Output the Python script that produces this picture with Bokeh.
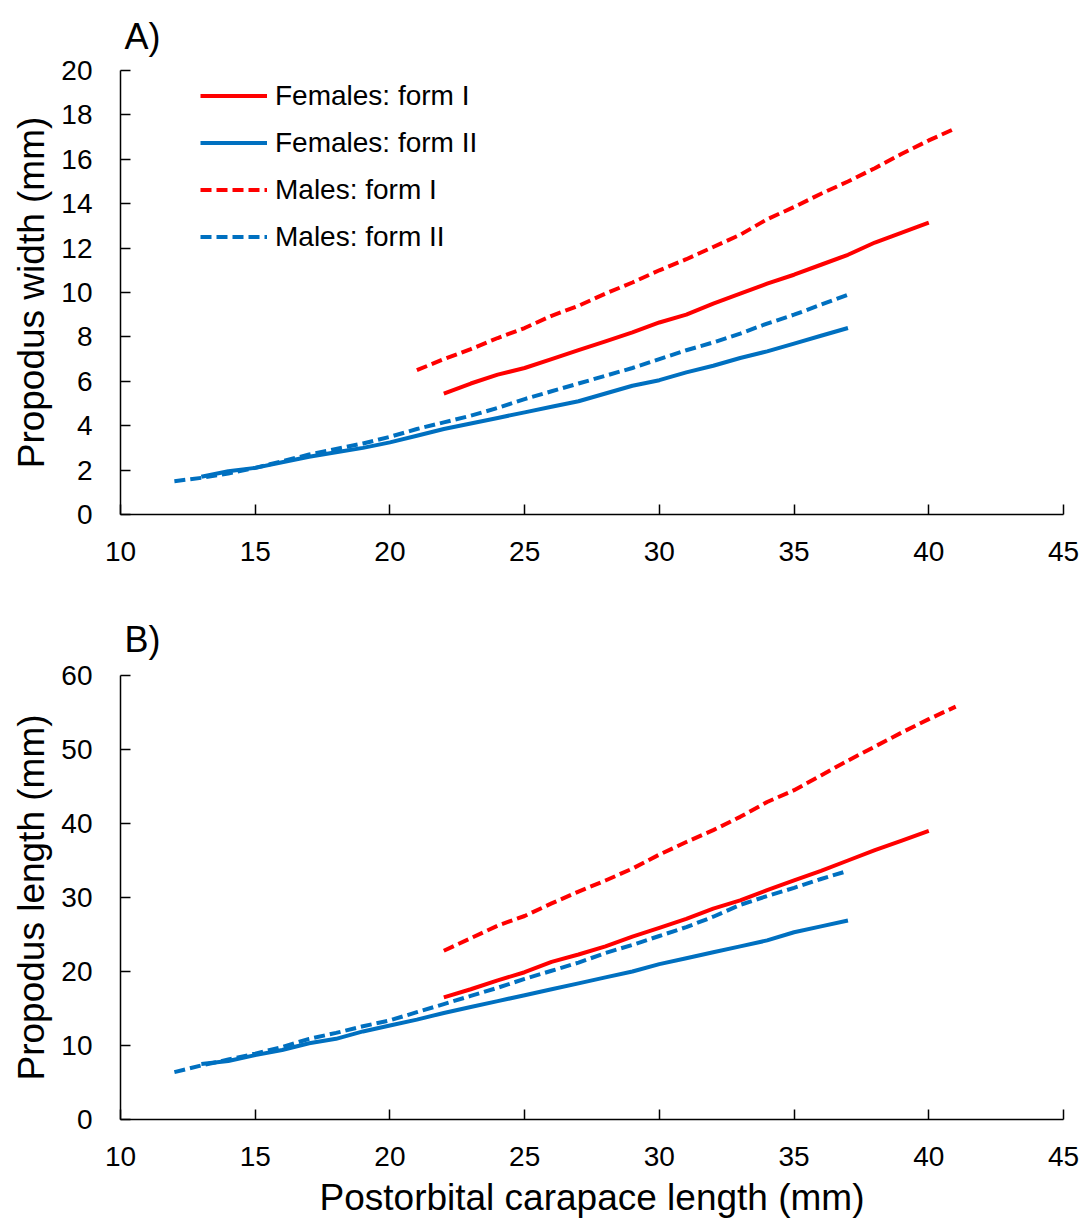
from bokeh.plotting import figure
from bokeh.models import Range1d, FixedTicker, Legend, LegendItem
from bokeh.layouts import column
from bokeh.embed import file_html
from bokeh.resources import INLINE

FONT = "Liberation Sans"
RED = "#FF0000"
BLUE = "#0070C0"

# ---- data ----
x_tick_values = [10, 15, 20, 25, 30, 35, 40, 45]
width_ticks = [0, 2, 4, 6, 8, 10, 12, 14, 16, 18, 20]
length_ticks = [0, 10, 20, 30, 40, 50, 60]

series_names = ["Females: form I", "Females: form II", "Males: form I", "Males: form II"]

# Panel A: propodus width
x_fem_I_w = list(range(22, 41))
w_fem_I = [5.45, 5.9, 6.3, 6.6, 7.0, 7.4, 7.8, 8.2, 8.65, 9.0, 9.5, 9.95, 10.4, 10.8,
           11.25, 11.7, 12.25, 12.7, 13.15]
x_fem_II_w = list(range(13, 38))
w_fem_II = [1.7, 1.95, 2.1, 2.35, 2.6, 2.8, 3.0, 3.25, 3.55, 3.85, 4.1, 4.35, 4.6, 4.85,
            5.1, 5.45, 5.8, 6.05, 6.4, 6.7, 7.05, 7.35, 7.7, 8.05, 8.4]
x_mal_I_w = list(range(21, 42))
w_mal_I = [6.5, 7.0, 7.45, 7.95, 8.4, 8.95, 9.4, 9.95, 10.45, 11.0, 11.5, 12.05, 12.6,
           13.3, 13.85, 14.45, 15.0, 15.6, 16.25, 16.85, 17.4]
x_mal_II_w = list(range(12, 38))
w_mal_II = [1.5, 1.65, 1.85, 2.1, 2.4, 2.7, 2.95, 3.2, 3.5, 3.85, 4.15, 4.45, 4.8, 5.2,
            5.55, 5.9, 6.25, 6.6, 7.0, 7.4, 7.75, 8.15, 8.6, 9.0, 9.45, 9.9]

# Panel B: propodus length
x_fem_I_l = list(range(22, 41))
l_fem_I = [16.5, 17.6, 18.8, 19.9, 21.3, 22.3, 23.4, 24.7, 25.9, 27.1, 28.5, 29.6, 31.0,
           32.3, 33.6, 35.0, 36.4, 37.7, 39.0]
x_fem_II_l = list(range(13, 38))
l_fem_II = [7.5, 7.9, 8.7, 9.4, 10.3, 10.9, 11.9, 12.7, 13.5, 14.4, 15.2, 16.0, 16.8,
            17.6, 18.4, 19.2, 20.0, 21.0, 21.8, 22.6, 23.4, 24.2, 25.3, 26.1, 26.9]
x_mal_I_l = list(range(22, 42))
l_mal_I = [22.8, 24.5, 26.2, 27.5, 29.2, 30.8, 32.3, 33.9, 35.8, 37.5, 39.1, 40.9, 42.9,
           44.5, 46.5, 48.5, 50.4, 52.3, 54.1, 55.8]
x_mal_II_l = list(range(12, 38))
l_mal_II = [6.4, 7.3, 8.1, 8.9, 9.8, 10.9, 11.7, 12.6, 13.4, 14.5, 15.6, 16.7, 17.8, 19.0,
            20.1, 21.2, 22.5, 23.6, 24.8, 26.0, 27.4, 29.0, 30.2, 31.3, 32.5, 33.6]

DASH = "11 5"


def make_fig(height, ymax, yticks, ylabel, panel_tag, standoff, min_top, min_bottom,
             xlabel=None):
    p = figure(width=1080, height=height, x_range=Range1d(10, 45), y_range=Range1d(0, ymax),
               output_backend="svg", toolbar_location=None, title=panel_tag,
               min_border_left=120, min_border_right=17,
               min_border_top=min_top, min_border_bottom=min_bottom)
    p.grid.visible = False
    p.outline_line_color = None
    p.background_fill_color = "white"
    p.border_fill_color = "white"
    p.title.text_font = FONT
    p.title.text_font_size = "36px"
    p.title.text_font_style = "normal"
    p.title.text_color = "black"
    p.title.vertical_align = "bottom"
    p.title.offset = 4
    p.title.standoff = standoff

    for ax in (p.xaxis[0], p.yaxis[0]):
        ax.axis_line_color = "black"
        ax.axis_line_width = 1.5
        ax.major_tick_line_color = "black"
        ax.major_tick_line_width = 1.5
        ax.major_tick_in = 10
        ax.major_tick_out = 0
        ax.minor_tick_line_color = None
        ax.major_label_text_font = FONT
        ax.major_label_text_font_size = "28px"
        ax.major_label_text_color = "black"
        ax.axis_label_text_font = FONT
        ax.axis_label_text_font_size = "37px"
        ax.axis_label_text_font_style = "normal"
        ax.axis_label_text_color = "black"

    p.xaxis.ticker = FixedTicker(ticks=x_tick_values)
    p.yaxis.ticker = FixedTicker(ticks=yticks)
    p.xaxis.major_label_standoff = 27
    p.yaxis.major_label_standoff = 28
    p.yaxis.axis_label = ylabel
    p.yaxis.axis_label_standoff = 6
    if xlabel:
        p.xaxis.axis_label = xlabel
        p.xaxis.axis_label_standoff = 8
    return p


pA = make_fig(600, 20, width_ticks, "Propodus width (mm)", "A)", 27, 70, 86)
rA = [
    pA.line(x_fem_I_w, w_fem_I, line_color=RED, line_width=4, line_join="round"),
    pA.line(x_fem_II_w, w_fem_II, line_color=BLUE, line_width=4, line_join="round"),
    pA.line(x_mal_I_w, w_mal_I, line_color=RED, line_width=4, line_dash=DASH, line_join="round"),
    pA.line(x_mal_II_w, w_mal_II, line_color=BLUE, line_width=4, line_dash=DASH, line_join="round"),
]
legend = Legend(items=[LegendItem(label=n, renderers=[r]) for n, r in zip(series_names, rA)],
                location=(80, 254))
legend.border_line_color = None
legend.background_fill_alpha = 0
legend.label_text_font = FONT
legend.label_text_font_size = "28px"
legend.label_text_color = "black"
legend.glyph_width = 67
legend.glyph_height = 47
legend.label_height = 47
legend.label_standoff = 8
legend.spacing = 0
legend.padding = 0
legend.margin = 0
pA.add_layout(legend)

pB = make_fig(629, 60, length_ticks, "Propodus length (mm)", "B)", 32, 75, 110,
              xlabel="Postorbital carapace length (mm)")
pB.line(x_fem_I_l, l_fem_I, line_color=RED, line_width=4, line_join="round")
pB.line(x_fem_II_l, l_fem_II, line_color=BLUE, line_width=4, line_join="round")
pB.line(x_mal_I_l, l_mal_I, line_color=RED, line_width=4, line_dash=DASH, line_join="round")
pB.line(x_mal_II_l, l_mal_II, line_color=BLUE, line_width=4, line_dash=DASH, line_join="round")

layout = column(pA, pB, spacing=0)
open("out.html", "w").write(file_html(layout, INLINE))
